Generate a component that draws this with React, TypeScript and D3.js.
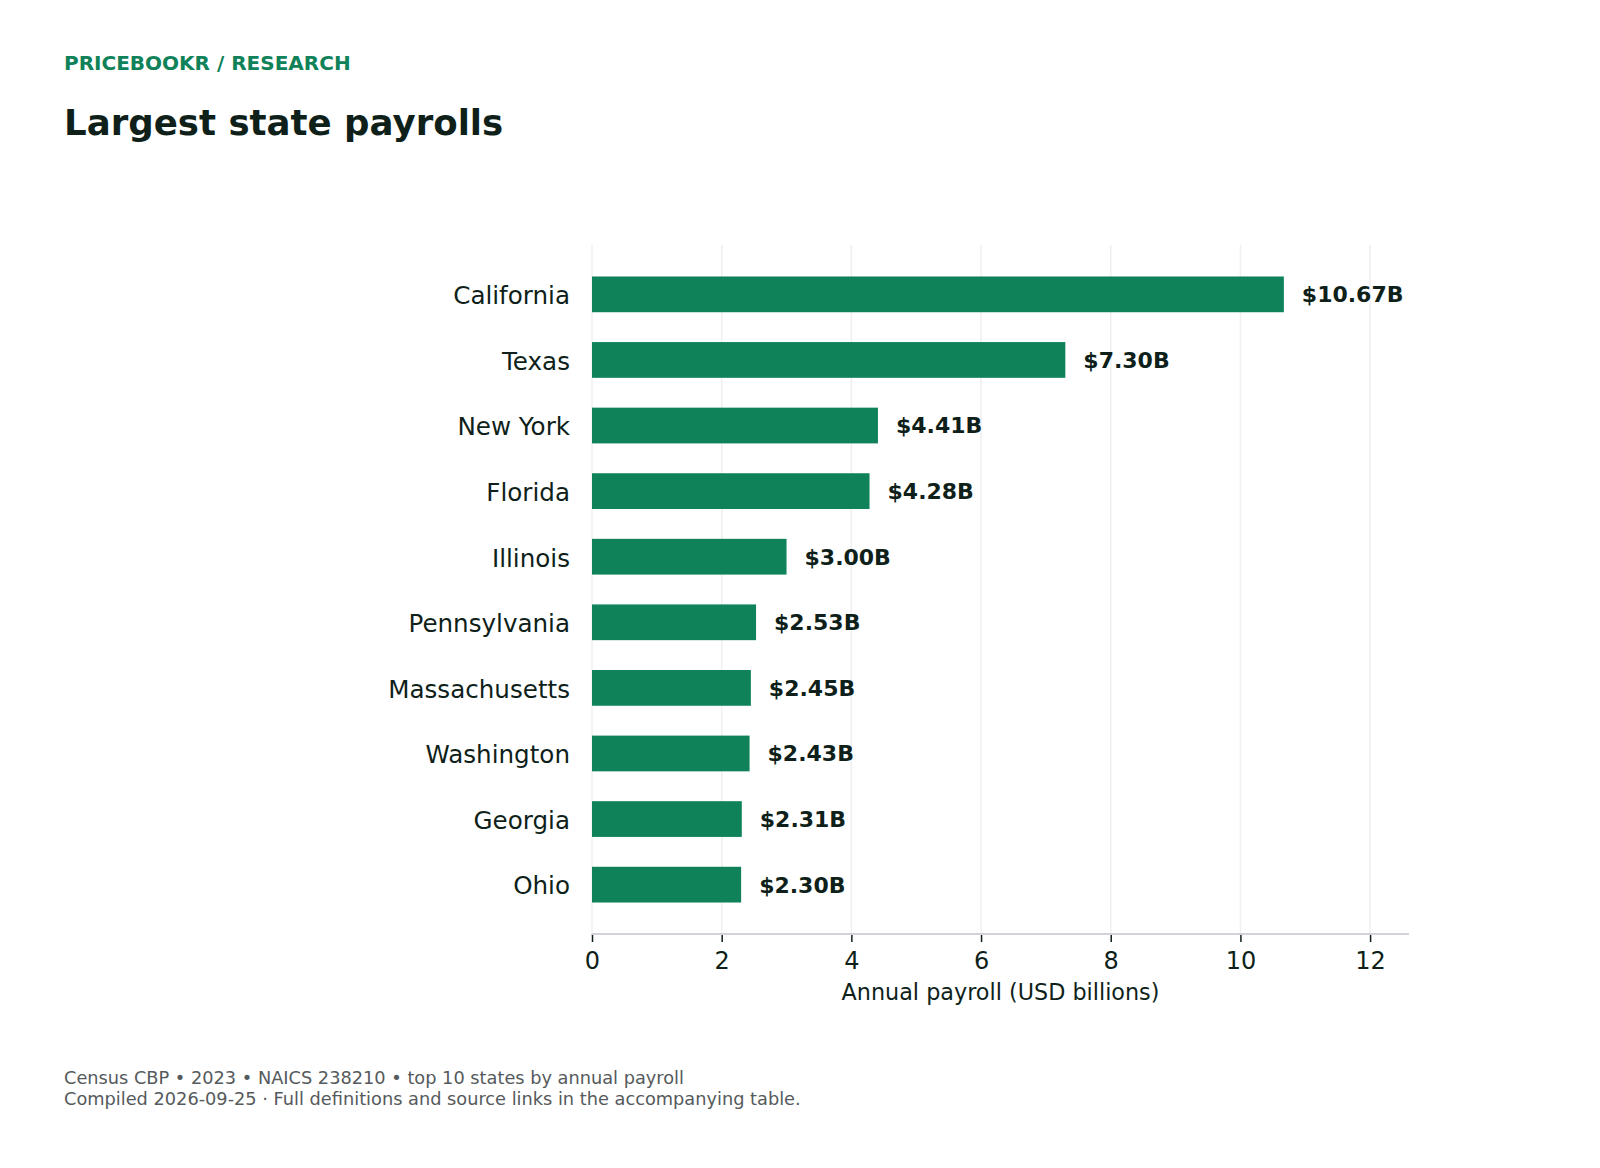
import * as React from 'react'
import * as d3 from 'd3'

const STATES = [
  'California',
  'Texas',
  'New York',
  'Florida',
  'Illinois',
  'Pennsylvania',
  'Massachusetts',
  'Washington',
  'Georgia',
  'Ohio'
]
const PAYROLL = [10.67, 7.3, 4.41, 4.28, 3.0, 2.53, 2.45, 2.43, 2.31, 2.3]
const X_TICKS = [0, 2, 4, 6, 8, 10, 12]
const X_MAX = 12.6

const KICKER = 'PRICEBOOKR / RESEARCH'
const TITLE = 'Largest state payrolls'
const X_LABEL = 'Annual payroll (USD billions)'
const FOOTER = [
  'Census CBP • 2023 • NAICS 238210 • top 10 states by annual payroll',
  'Compiled 2026-09-25 · Full definitions and source links in the accompanying table.'
]

const WIDTH = 1600
const HEIGHT = 1168
const PLOT_LEFT = 592
const PLOT_RIGHT = 1409
const PLOT_TOP = 245
const PLOT_BOTTOM = 934

const FONT = '"DejaVu Sans", Verdana, sans-serif'
const GREEN = '#0f8259'
const INK = '#0f1f1a'

function drawChart(svgRef: React.RefObject<SVGSVGElement>) {
  const svg = d3.select(svgRef.current)
  svg.selectAll('*').remove()

  const x = d3.scaleLinear().domain([0, X_MAX]).range([PLOT_LEFT, PLOT_RIGHT])
  const y = d3
    .scaleBand<string>()
    .domain(STATES)
    .range([PLOT_TOP, PLOT_BOTTOM])
    .paddingInner(0.455)
    .paddingOuter(0.48)

  svg
    .append('rect')
    .attr('width', WIDTH)
    .attr('height', HEIGHT)
    .attr('fill', '#ffffff')

  // header
  svg
    .append('text')
    .attr('x', 64)
    .attr('y', 70)
    .attr('font-size', 20)
    .attr('font-weight', 700)
    .attr('fill', GREEN)
    .text(KICKER)
  svg
    .append('text')
    .attr('x', 64)
    .attr('y', 135)
    .attr('font-size', 35.6)
    .attr('font-weight', 700)
    .attr('fill', INK)
    .text(TITLE)

  // grid
  svg
    .append('g')
    .selectAll('line')
    .data(X_TICKS)
    .join('line')
    .attr('x1', d => x(d))
    .attr('x2', d => x(d))
    .attr('y1', PLOT_TOP)
    .attr('y2', PLOT_BOTTOM)
    .attr('stroke', '#efefef')
    .attr('stroke-width', 1.5)

  // bars
  const data = STATES.map((s, i) => ({ state: s, value: PAYROLL[i] }))
  svg
    .append('g')
    .selectAll('rect')
    .data(data)
    .join('rect')
    .attr('x', x(0))
    .attr('y', d => y(d.state) as number)
    .attr('width', d => x(d.value) - x(0))
    .attr('height', y.bandwidth())
    .attr('fill', GREEN)

  // value labels
  svg
    .append('g')
    .selectAll('text')
    .data(data)
    .join('text')
    .attr('x', d => x(d.value) + 18)
    .attr('y', d => (y(d.state) as number) + y.bandwidth() / 2)
    .attr('dy', '0.36em')
    .attr('font-size', 22)
    .attr('font-weight', 700)
    .attr('fill', INK)
    .text(d => `$${d.value.toFixed(2)}B`)

  // category labels
  svg
    .append('g')
    .selectAll('text')
    .data(STATES)
    .join('text')
    .attr('x', 570)
    .attr('y', d => (y(d) as number) + y.bandwidth() / 2)
    .attr('dy', '0.4em')
    .attr('text-anchor', 'end')
    .attr('font-size', 24.6)
    .attr('fill', INK)
    .text(d => d)

  // x axis
  const xAxis = svg
    .append('g')
    .attr('transform', `translate(0,${PLOT_BOTTOM})`)
    .call(
      d3
        .axisBottom(x)
        .tickValues(X_TICKS)
        .tickFormat(d3.format('d'))
        .tickSize(8)
        .tickPadding(10)
    )
  xAxis.select('.domain').remove()
  xAxis
    .append('line')
    .attr('x1', PLOT_LEFT)
    .attr('x2', PLOT_RIGHT)
    .attr('stroke', '#d2d2d8')
    .attr('stroke-width', 2)
  xAxis.selectAll('.tick line').attr('stroke', INK).attr('stroke-width', 1.5)
  xAxis
    .selectAll('.tick text')
    .attr('font-size', 24)
    .attr('font-family', FONT)
    .attr('fill', INK)

  svg
    .append('text')
    .attr('x', (PLOT_LEFT + PLOT_RIGHT) / 2)
    .attr('y', 1000)
    .attr('text-anchor', 'middle')
    .attr('font-size', 22.3)
    .attr('fill', INK)
    .text(X_LABEL)

  // footer
  svg
    .append('g')
    .selectAll('text')
    .data(FOOTER)
    .join('text')
    .attr('x', 64)
    .attr('y', (d, i) => 1084 + i * 21)
    .attr('font-size', 17.75)
    .attr('fill', '#555a5c')
    .text(d => d)
}

export default function App() {
  const chartSvg = React.useRef<SVGSVGElement>(null)
  React.useEffect(() => {
    drawChart(chartSvg)
  }, [])
  return (
    <svg
      ref={chartSvg}
      width={WIDTH}
      height={HEIGHT}
      fontFamily={FONT}
      style={{ position: 'absolute', left: 0, top: 0, display: 'block' }}
    />
  )
}
